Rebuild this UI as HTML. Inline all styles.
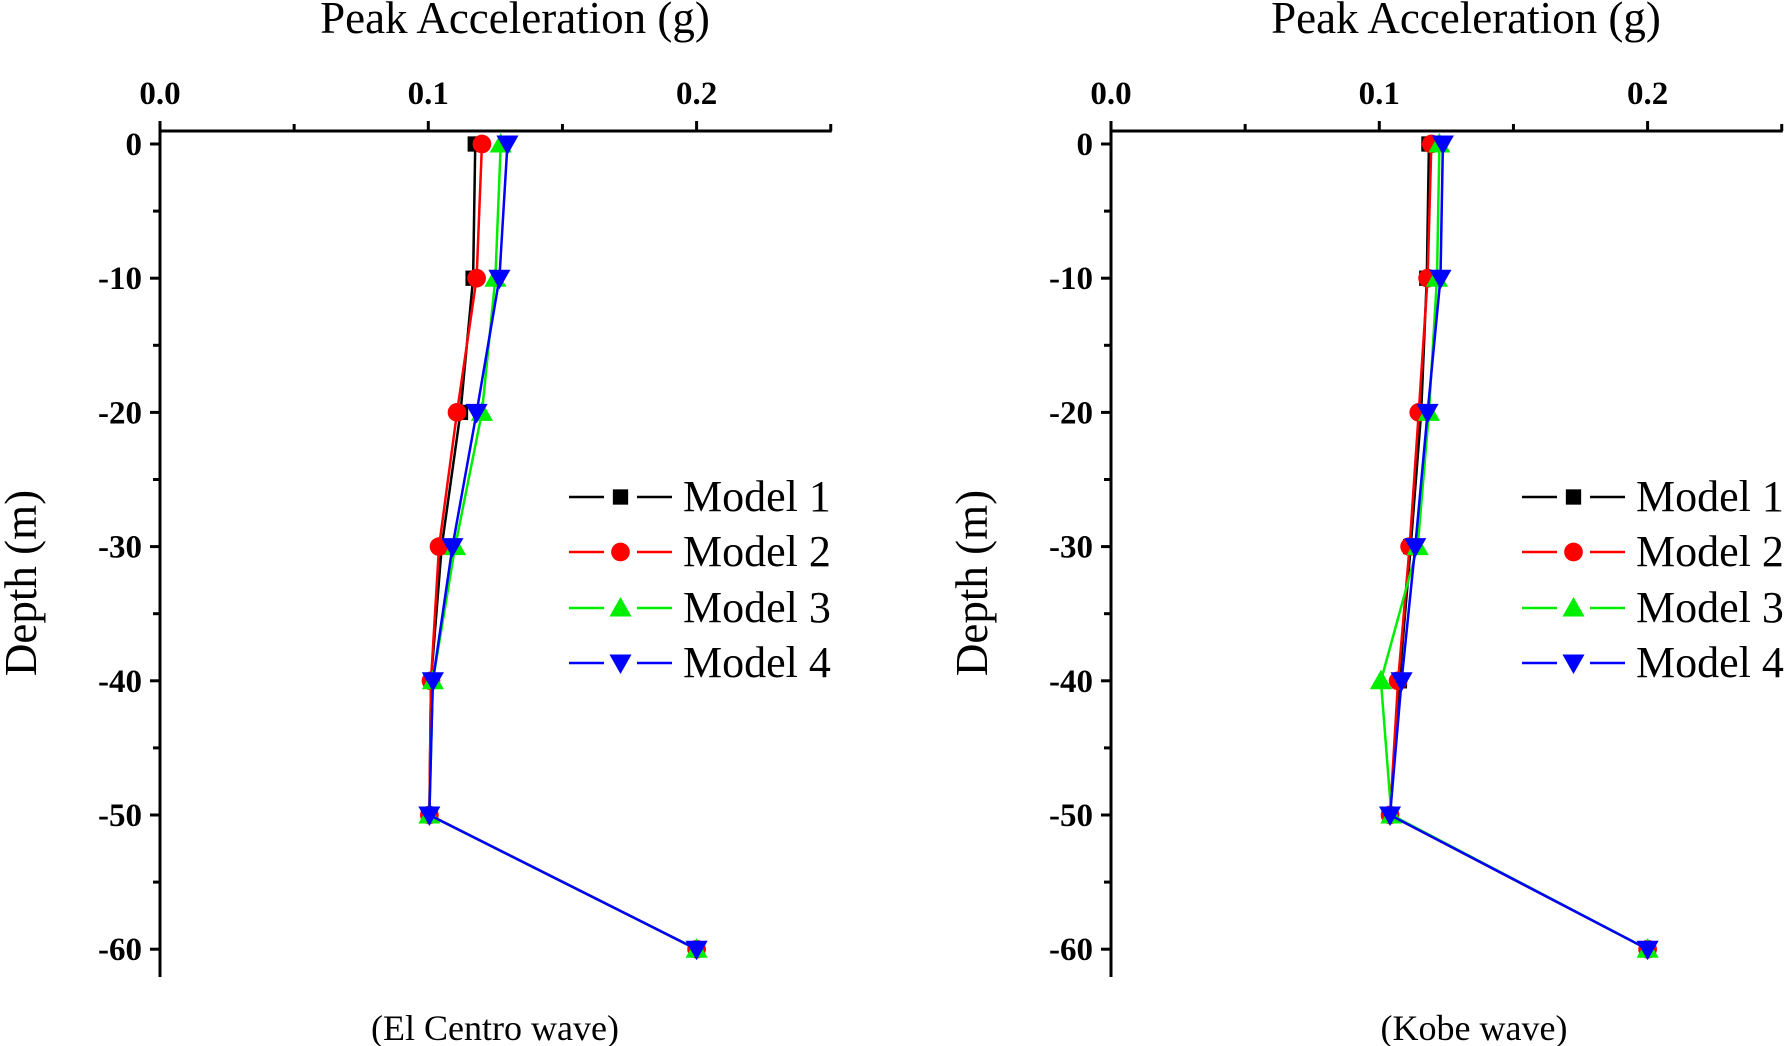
<!DOCTYPE html>
<html><head><meta charset="utf-8"><style>
html,body{margin:0;padding:0;background:#fff;}
svg{display:block;font-family:"Liberation Serif",serif;}
</style></head><body>
<svg id="chart" width="1789" height="1046" viewBox="0 0 1789 1046" xmlns="http://www.w3.org/2000/svg"></svg>
<script>
const depths = [0, -10, -20, -30, -40, -50, -60];
const xTicks = [0.0, 0.1, 0.2];
const xTickLabels = ["0.0", "0.1", "0.2"];
const yTicks = [0, -10, -20, -30, -40, -50, -60];
const yTickLabels = ["0", "-10", "-20", "-30", "-40", "-50", "-60"];
const seriesNames = ["Model 1", "Model 2", "Model 3", "Model 4"];
const seriesColors = ["#000000", "#ff0000", "#00ee00", "#0000ff"];
const seriesMarkers = ["square", "circle", "up", "down"];
const elCentroM1 = [0.1175, 0.1167, 0.112, 0.105, 0.101, 0.1004, 0.2];
const elCentroM2 = [0.120, 0.118, 0.1107, 0.104, 0.101, 0.1004, 0.2];
const elCentroM3 = [0.127, 0.125, 0.120, 0.110, 0.1017, 0.1004, 0.2];
const elCentroM4 = [0.1295, 0.1265, 0.118, 0.109, 0.1017, 0.1004, 0.2];
const kobeM1 = [0.1185, 0.1177, 0.1156, 0.1117, 0.1075, 0.104, 0.2];
const kobeM2 = [0.1194, 0.118, 0.1147, 0.1113, 0.107, 0.104, 0.2];
const kobeM3 = [0.1224, 0.1215, 0.1185, 0.1143, 0.1006, 0.1045, 0.2];
const kobeM4 = [0.1237, 0.1228, 0.118, 0.1134, 0.1083, 0.104, 0.2];
const panelCaptions = ["(El Centro wave)", "(Kobe wave)"];

const NS = "http://www.w3.org/2000/svg";
const svg = document.getElementById("chart");
function mk(tag, attrs, parent, text) {
  const e = document.createElementNS(NS, tag);
  for (const k in attrs) e.setAttribute(k, attrs[k]);
  if (text !== undefined) e.textContent = text;
  (parent || svg).appendChild(e);
  return e;
}
function marker(g, type, cx, cy, color, s) {
  let e;
  if (type === "square") e = mk("rect", {x: cx - s*0.45, y: cy - s*0.45, width: s*0.9, height: s*0.9, fill: color}, g);
  else if (type === "circle") e = mk("circle", {cx: cx, cy: cy, r: s*0.55, fill: color}, g);
  else if (type === "up") e = mk("polygon", {points: `${cx},${cy - s*0.65} ${cx - s*0.65},${cy + s*0.5} ${cx + s*0.65},${cy + s*0.5}`, fill: color}, g);
  else e = mk("polygon", {points: `${cx},${cy + s*0.65} ${cx - s*0.65},${cy - s*0.5} ${cx + s*0.65},${cy - s*0.5}`, fill: color}, g);
  return e;
}

function panel(x0, capX, series, legendX, idx) {
  const per01 = 268.3, y0 = 144, per10 = 134.2, axisTop = 131, axisBot = 977;
  const xs = v => x0 + v / 0.1 * per01;
  const ys = d => y0 - d / 10 * per10;
  const xEnd = xs(0.25);
  const g = mk("g", {});
  
  
  const ax = mk("g", {stroke: "#000", "stroke-width": 3, fill: "none"}, g);
  
  
  mk("line", {x1: x0, y1: axisTop, x2: xEnd + 1, y2: axisTop}, ax);
  mk("line", {x1: x0, y1: axisTop - 8, x2: x0, y2: axisBot}, ax);
  for (let v = 0; v <= 0.2501; v += 0.05) {
    const major = Math.abs(v * 20 % 2) < 0.01;
    mk("line", {x1: xs(v), y1: axisTop, x2: xs(v), y2: axisTop - (major ? 10 : 7)}, ax);
  }
  xTicks.forEach((v, i) => {
    const t = mk("text", {x: xs(v), y: 104, "text-anchor": "middle", "font-size": 33, "font-weight": "bold"}, g, xTickLabels[i]);
    
    
  });
  for (let d = 0; d >= -60; d -= 5) {
    const major = d % 10 === 0;
    mk("line", {x1: x0, y1: ys(d), x2: x0 - (major ? 10 : 7), y2: ys(d)}, ax);
  }
  yTicks.forEach((d, i) => {
    const t = mk("text", {x: x0 - 18, y: ys(d) + 11, "text-anchor": "end", "font-size": 33, "font-weight": "bold"}, g, yTickLabels[i]);
    
    
  });
  const xt = mk("text", {x: x0 + 355, y: 33, "text-anchor": "middle", "font-size": 45}, g, "Peak Acceleration (g)");
  
  
  const yt = mk("text", {x: 0, y: 0, "text-anchor": "middle", "font-size": 45, transform: `translate(${x0 - 124},583) rotate(-90)`}, g, "Depth (m)");
  
  
  const cap = mk("text", {x: capX, y: 1040, "text-anchor": "middle", "font-size": 36}, g, panelCaptions[idx]);
  
  
  series.forEach((vals, si) => {
    const sg = mk("g", {}, g);
    
    
    const pts = vals.map((v, i) => `${xs(v)},${ys(depths[i])}`).join(" ");
    const pl = mk("polyline", {points: pts, fill: "none", stroke: seriesColors[si], "stroke-width": 2.5}, sg);
    
    
    vals.forEach((v, i) => {
      const m = marker(sg, seriesMarkers[si], xs(v), ys(depths[i]), seriesColors[si], 17);
      
      
    });
  });
  const lg = mk("g", {}, g);
  
  
  const ly = [497, 552, 608, 663];
  seriesNames.forEach((n, si) => {
    const eg = mk("g", {}, lg);
    
    
    const y = ly[si];
    mk("line", {x1: legendX, y1: y, x2: legendX + 35, y2: y, stroke: seriesColors[si], "stroke-width": 2.5}, eg);
    mk("line", {x1: legendX + 68, y1: y, x2: legendX + 103, y2: y, stroke: seriesColors[si], "stroke-width": 2.5}, eg);
    marker(eg, seriesMarkers[si], legendX + 51.5, y, seriesColors[si], 17);
    mk("text", {x: legendX + 114, y: y + 14, "font-size": 44}, eg, n);
  });
}
panel(160, 495, [elCentroM1, elCentroM2, elCentroM3, elCentroM4], 569, 0);
panel(1111, 1474, [kobeM1, kobeM2, kobeM3, kobeM4], 1522, 1);
</script>
</body></html>
